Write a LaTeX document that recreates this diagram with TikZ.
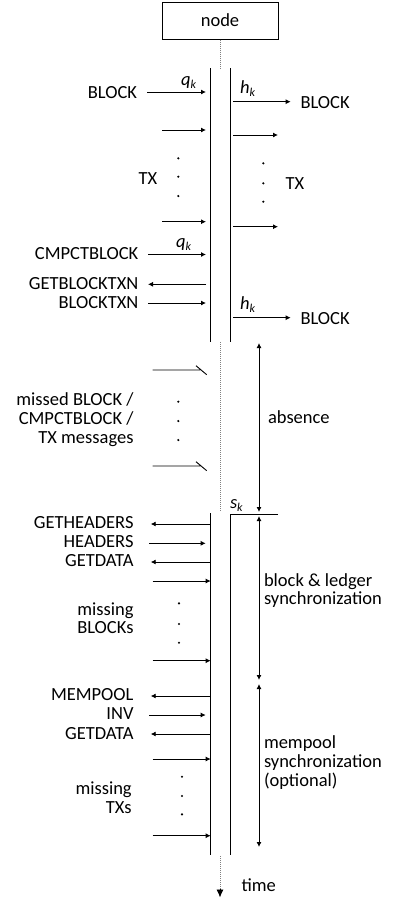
\documentclass[tikz,border=0pt]{standalone}
\usepackage{fontspec}
\setmainfont{Carlito}
\usetikzlibrary{arrows.meta}
\newcommand\myfs{\fontsize{18.5}{19}\selectfont}
\newcommand\mysub[2]{\textit{#1}{\fontsize{12}{12}\selectfont\raisebox{-3pt}{\textit{#2}}}}
\tikzset{
  lbl/.style={font=\myfs, inner sep=0pt, outer sep=0pt},
  lblL/.style={lbl, anchor=base east},
  lblR/.style={lbl, anchor=base west},
  msg/.style={line width=0.9pt, -{Latex[length=5pt,width=5pt]}},
  life/.style={line width=1pt},
  dotline/.style={gray, line width=1pt, dash pattern=on 1pt off 1pt},
  span/.style={line width=0.9pt, {Latex[length=5pt,width=5pt]}-{Latex[length=5pt,width=5pt]}},
}
\begin{document}
\begin{tikzpicture}[x=1pt,y=-1pt]
\useasboundingbox (0,0) rectangle (393,903);
% node box
\node[draw, line width=1pt, minimum width=116pt, minimum height=37pt, font=\myfs, inner sep=0pt] (nodebox) at (220,20.5) {node};
% lifelines
\coordinate (L1t) at (210.7,68); \coordinate (L1b) at (210.7,341.7);
\coordinate (R1t) at (230,68);   \coordinate (R1b) at (230,341.7);
\coordinate (L2t) at (210.7,513); \coordinate (L2b) at (210.7,855);
\coordinate (R2t) at (230,514);   \coordinate (R2b) at (230,855);
\coordinate (Sk) at (278,514);
\coordinate (D1) at (220,68);
\coordinate (D2) at (220,342);
\coordinate (D3) at (220,512);
\coordinate (D4) at (220,856);
\coordinate (D5) at (220,889);
\coordinate (D6) at (220,897.5);
\draw[life] (L1t) -- (L1b);
\draw[life] (R1t) -- (R1b);
\draw[life] (L2t) -- (L2b);
\draw[life] (Sk) -- (R2t) -- (R2b);
\draw[dotline] (nodebox.south) -- (D1);
\draw[dotline] (D2) -- (D3);
\draw[dotline] (D4) -- (D5);
\draw[line width=0.9pt, -{Latex[length=8pt,width=7pt]}] (D5) -- (D6);
\node[lblR] (time) at (241.5,891.5) {time};

% ---- top section: incoming
\node[lblL] (blk1) at (137,98.3) {BLOCK};
\draw[msg] (147,92) -- (206,92);
\node[lblR] (q1) at (181,85) {\mysub{q}{k}};
\draw[msg] (162,130) -- (206,130);
\fill (178.3,158.3) circle (1.2pt) (178.3,176.7) circle (1.2pt) (178.3,196) circle (1.2pt);
\node[lbl, anchor=base] (tx1) at (148,184) {TX};
\draw[msg] (162,221.7) -- (206,221.7);
\node[lblL] (cmpct) at (138.3,259.5) {CMPCTBLOCK};
\draw[msg] (148,254.5) -- (206,254.5);
\node[lblR] (q2) at (176,247.3) {\mysub{q}{k}};
\node[lblL] (gbt) at (138.3,289.5) {GETBLOCKTXN};
\draw[msg] (206,284.3) -- (148,284.3);
\node[lblL] (bt) at (138.3,308) {BLOCKTXN};
\draw[msg] (148,303) -- (206,303);

% ---- top section: outgoing
\node[lblR] (h1) at (240,93.3) {\mysub{h}{k}};
\draw[msg] (233,101.7) -- (290.7,101.7);
\node[lblR] (blk2) at (300.5,108) {BLOCK};
\draw[msg] (233,135) -- (278,135);
\fill (263.3,163.3) circle (1.2pt) (263.3,183.3) circle (1.2pt) (263.3,201.7) circle (1.2pt);
\node[lbl, anchor=base] (tx2) at (295,189) {TX};
\draw[msg] (233,226.7) -- (278,226.7);
\node[lblR] (h2) at (240,309.3) {\mysub{h}{k}};
\draw[msg] (233,317.7) -- (290.7,317.7);
\node[lblR] (blk3) at (300.5,324) {BLOCK};

% ---- missed messages
\draw[line width=0.9pt] (152.7,370) -- (200,370) (196,365.7) -- (206.7,374.7);
\draw[line width=0.9pt] (152.7,466) -- (200,466) (196,461.7) -- (206.7,470.7);
\fill (178.3,401.7) circle (1.2pt) (178.3,421) circle (1.2pt) (178.3,440) circle (1.2pt);
\node[lblL] (m1) at (133.5,405) {missed BLOCK /};
\node[lblL] (m2) at (133.5,424) {CMPCTBLOCK /};
\node[lblL] (m3) at (133.5,443) {TX messages};

% ---- spans
\draw[span] (259,343) -- (259,512);
\draw[span] (259,516) -- (259,680);
\draw[span] (259,684) -- (259,847);
\node[lblR] (abs) at (268,423) {absence};
\node[lblR] (s1) at (230,508) {\mysub{s}{k}};
\node[lblR] (bl1) at (264,586) {block \& ledger};
\node[lblR] (bl2) at (264,604.5) {synchronization};
\node[lblR] (mp1) at (264,748.5) {mempool};
\node[lblR] (mp2) at (264,767.5) {synchronization};
\node[lblR] (mp3) at (264,786.5) {(optional)};

% ---- block sync
\node[lblL] (gh) at (133.5,528.5) {GETHEADERS};
\draw[msg] (210.7,524) -- (150.7,524);
\node[lblL] (hd) at (133.5,547.7) {HEADERS};
\draw[msg] (149,543.3) -- (205.7,543.3);
\node[lblL] (gd1) at (133.5,566.5) {GETDATA};
\draw[msg] (210.7,562) -- (150.7,562);
\draw[msg] (152.7,581) -- (210.7,581);
\fill (179,603.3) circle (1.2pt) (179,624) circle (1.2pt) (179,642.7) circle (1.2pt);
\node[lblL] (mb1) at (133.5,615) {missing};
\node[lblL] (mb2) at (133.5,633.5) {BLOCKs};
\draw[msg] (152.7,660.7) -- (210.7,660.7);

% ---- mempool sync
\node[lblL] (mpl) at (133.5,700.7) {MEMPOOL};
\draw[msg] (210.7,696) -- (150.7,696);
\node[lblL] (inv) at (133.5,719.5) {INV};
\draw[msg] (149,715) -- (205.7,715);
\node[lblL] (gd2) at (133.5,739) {GETDATA};
\draw[msg] (210.7,734) -- (150.7,734);
\draw[msg] (152.7,759) -- (210.7,759);
\fill (182,776.7) circle (1.2pt) (182,796) circle (1.2pt) (182,814.3) circle (1.2pt);
\node[lblL] (mt1) at (131.7,794.5) {missing};
\node[lblL] (mt2) at (131.7,813.3) {TXs};
\draw[msg] (152.7,835.7) -- (210.7,835.7);
\end{tikzpicture}
\end{document}
